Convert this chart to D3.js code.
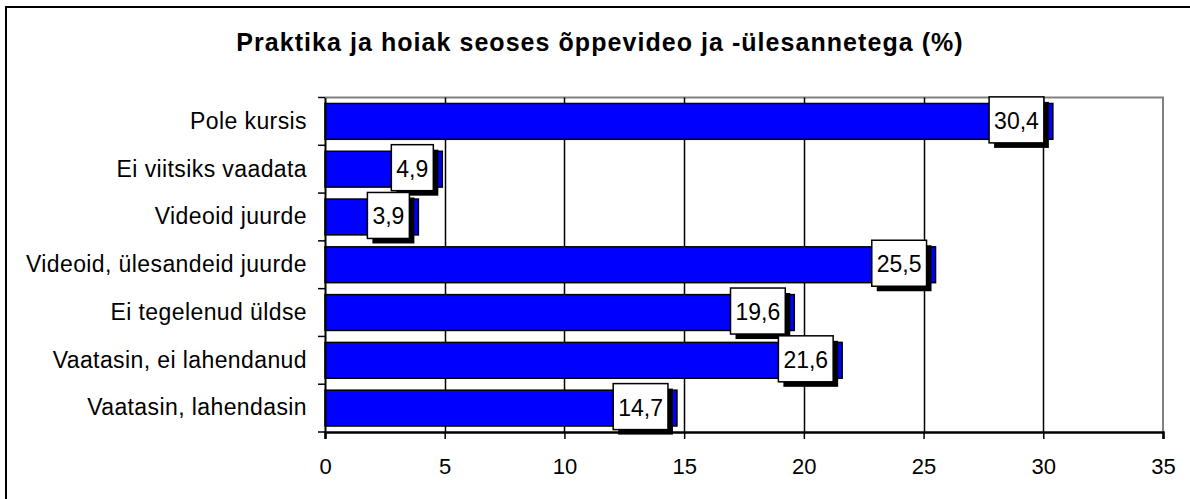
<!DOCTYPE html>
<html><head><meta charset="utf-8">
<script src="https://cdn.jsdelivr.net/npm/d3@7"></script>
<style>body{margin:0;background:#fff}svg{display:block}text{font-family:"Liberation Sans",Arial,sans-serif}</style>
</head><body>
<svg id="c" width="1190" height="499"></svg>
<script>
const categories = ["Pole kursis","Ei viitsiks vaadata","Videoid juurde","Videoid, ülesandeid juurde","Ei tegelenud üldse","Vaatasin, ei lahendanud","Vaatasin, lahendasin"];
const values = [30.4,4.9,3.9,25.5,19.6,21.6,14.7];
const valueLabels = ["30,4","4,9","3,9","25,5","19,6","21,6","14,7"];
const xTicks = [0,5,10,15,20,25,30,35];
const title = "Praktika ja hoiak seoses õppevideo ja -ülesannetega (%)";

const svg = d3.select("#c");
const L = 325, R = 1163, T = 97.5, B = 432;
const x = d3.scaleLinear().domain([0,35]).range([L,R]);
const y = d3.scaleBand().domain(categories).range([T,B]).paddingInner(0.25).paddingOuter(0.125);
const band = d3.scaleBand().domain(categories).range([T,B]);

// outer frame
svg.append("path").attr("d","M6,499 V7 H1190").attr("fill","none").attr("stroke","#000").attr("stroke-width",2);

svg.append("text").attr("x",600).attr("y",51).attr("text-anchor","middle")
  .attr("font-size",25).attr("letter-spacing",1.05).attr("font-weight","bold").text(title);

// plot border (gray)
svg.append("path").attr("d",`M${L},${T} H${R} V${B}`).attr("fill","none").attr("stroke","#808080").attr("stroke-width",2);

// grid
svg.append("g").selectAll("line").data(xTicks.filter(d=>d>0&&d<35)).join("line")
  .attr("x1",d=>Math.round(x(d))+0.5).attr("x2",d=>Math.round(x(d))+0.5).attr("y1",T).attr("y2",B)
  .attr("stroke","#000").attr("stroke-width",1.5);

// bars
svg.append("g").selectAll("rect").data(values).join("rect")
  .attr("x",x(0)).attr("y",(d,i)=>y(categories[i])).attr("width",d=>x(d)-x(0)).attr("height",y.bandwidth())
  .attr("fill","#0000ff").attr("stroke","#000").attr("stroke-width",1.5);

// axes
const xa = svg.append("g").attr("transform",`translate(0,${B})`)
  .call(d3.axisBottom(x).tickValues(xTicks).tickSize(7).tickPadding(19).tickFormat(d3.format("d")));
xa.select(".domain").attr("stroke","#000").attr("stroke-width",2.5);
xa.selectAll(".tick line").attr("stroke","#000").attr("stroke-width",1.5);
xa.selectAll("text").attr("font-size",22).attr("fill","#000").attr("font-family","Liberation Sans, Arial, sans-serif");

const ya = svg.append("g").attr("transform",`translate(${L},0)`)
  .call(d3.axisLeft(band).tickSize(0).tickPadding(18));
ya.select(".domain").attr("stroke","#000").attr("stroke-width",2);
ya.selectAll("text").attr("font-size",23).attr("letter-spacing",0.4).attr("fill","#000").attr("font-family","Liberation Sans, Arial, sans-serif");
// band boundary ticks
svg.append("g").selectAll("line").data(d3.range(categories.length+1)).join("line")
  .attr("x1",L-7).attr("x2",L).attr("y1",i=>T+i*band.step()).attr("y2",i=>T+i*band.step())
  .attr("stroke","#000").attr("stroke-width",1.5);

// value labels
const lg = svg.append("g");
values.forEach((v,i)=>{
  const cy = y(categories[i]) + y.bandwidth()/2 - 1.5;
  const g = lg.append("g");
  const t = g.append("text").attr("font-size",23).attr("text-anchor","end").attr("dominant-baseline","central")
    .attr("x",x(v)-14).attr("y",cy+1).text(valueLabels[i]);
  const w = t.node().getComputedTextLength() + 10;
  const bx = x(v)-9-w, by = cy-23;
  g.insert("rect","text").attr("x",bx+5).attr("y",by+5).attr("width",w).attr("height",46).attr("fill","#000");
  g.insert("rect","text").attr("x",bx).attr("y",by).attr("width",w).attr("height",46).attr("fill","#fff").attr("stroke","#000").attr("stroke-width",1.5);
});
</script>
</body></html>
